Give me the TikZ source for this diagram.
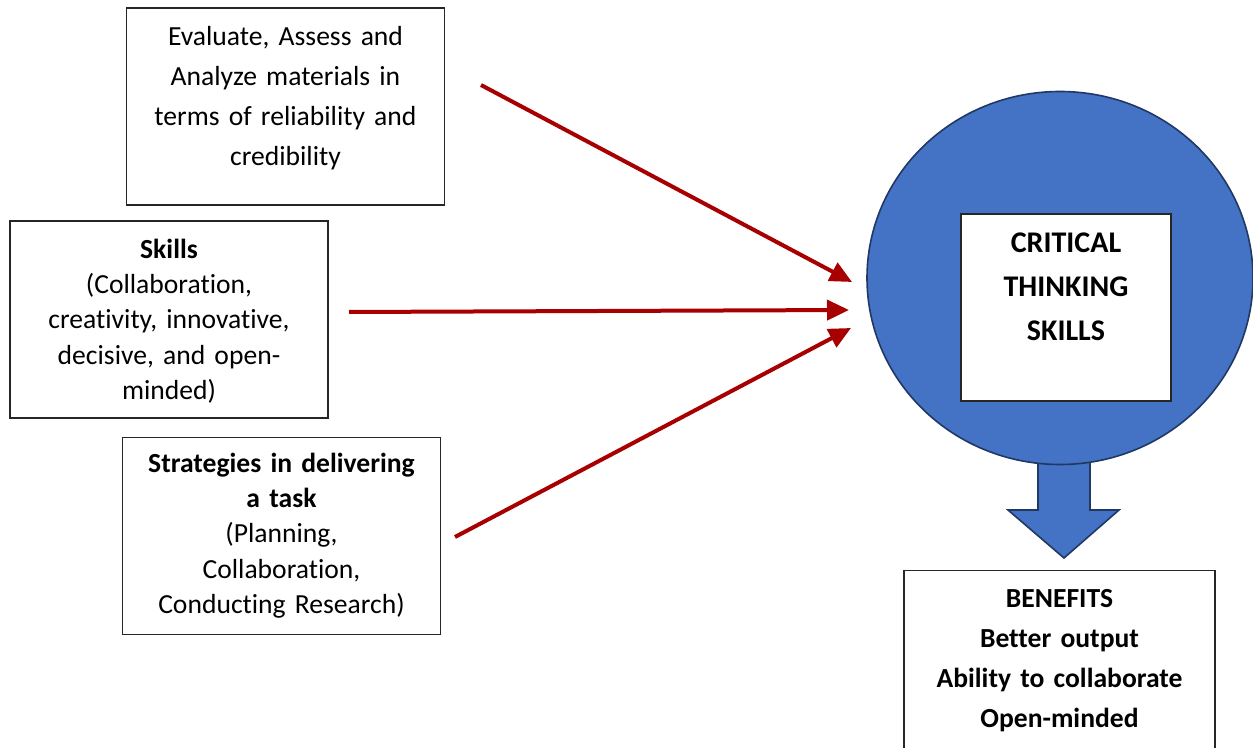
\documentclass[tikz,border=0pt]{standalone}
\usepackage{fontspec}
\setmainfont[Ligatures=NoCommon]{Carlito}
\usepackage{tikz}
\usetikzlibrary{arrows.meta,shapes.geometric}

\definecolor{ctblue}{HTML}{4472C4}
\definecolor{ctedge}{HTML}{203864}
\definecolor{linkred}{HTML}{A80000}

\begin{document}
\begin{tikzpicture}[x=0.5pt, y=-0.5pt,
        box/.style = {draw=black!85, line width=0.6pt,
            text width=152pt, inner xsep=3.5pt, inner ysep=0pt,
            align=center, text height=18.75pt, text depth=79.75pt},
        ctbox/.style = {draw=black!85, fill=white, line width=0.6pt,
            text width=99pt, inner xsep=3pt, inner ysep=0pt,
            align=center, text height=19.5pt, text depth=74pt,
            font=\bfseries\fontsize{15}{22}\selectfont},
        link/.style = {draw=linkred, line width=2pt,
            -{Triangle[length=11pt,width=10pt]}}]

        % Page
        \clip (0,0) rectangle (1253,748);
        \fill[white] (0,0) rectangle (1253,748);

        % Input boxes
        \node[box, font=\fontsize{13.8}{20}\selectfont] (eval) at (285.5,106.5)
            {Evaluate, Assess and\\Analyze materials in\\terms of reliability and\\credibility};
        \node[box, font=\fontsize{13.8}{17.6}\selectfont] (skills) at (169,319.5)
            {\textbf{Skills}\\(Collaboration,\\creativity, innovative,\\decisive, and open-\\minded)};
        \node[box, font=\fontsize{13.8}{17.6}\selectfont, text height=17.5pt, text depth=81pt] (strat) at (281.5,536)
            {\textbf{Strategies in delivering}\\\textbf{a task}\\(Planning,\\Collaboration,\\Conducting Research)};

        % Block arrow down to the benefits
        \draw[fill=ctblue, draw=ctedge, line width=0.8pt]
            (1038,440) -- (1038,510) -- (1008,510) -- (1064,558)
            -- (1119,510) -- (1090,510) -- (1090,440) -- cycle;

        % Critical thinking circle
        \node[ellipse, draw=ctedge, fill=ctblue, line width=0.8pt, inner sep=0pt,
            minimum width=193pt, minimum height=186.5pt] (ctcircle) at (1060,278) {};
        \node[ctbox] (ctskills) at (1066,307.5) {CRITICAL\\THINKING\\SKILLS};

        % Benefits
        \node[box, anchor=north, text width=149pt, inner xsep=3.25pt,
            text height=18.5pt, text depth=84pt,
            font=\bfseries\fontsize{13.8}{20}\selectfont] (benefits) at (1059.5,570)
            {BENEFITS\\Better output\\Ability to collaborate\\Open-minded};

        % Arrows into the circle
        \coordinate (evalout) at (481,85);
        \coordinate (skillsout) at (349,312);
        \coordinate (stratout) at (455,537);
        \coordinate (ctin1) at (852,282);
        \coordinate (ctin2) at (849,310);
        \coordinate (ctin3) at (851,328);
        \draw[link] (evalout) -- (ctin1);
        \draw[link] (skillsout) -- (ctin2);
        \draw[link] (stratout) -- (ctin3);
    \end{tikzpicture}
\end{document}
